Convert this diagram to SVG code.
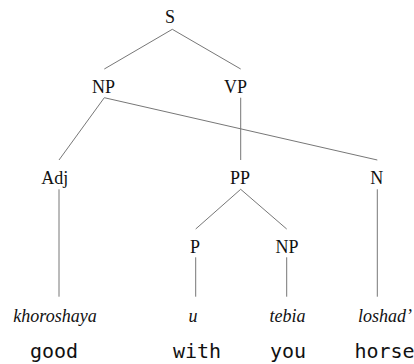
<svg xmlns="http://www.w3.org/2000/svg" width="414" height="364" viewBox="0 0 414 364">
<style>
.lbl{font-family:"Liberation Serif","Times New Roman",serif;font-size:18px;fill:#111;text-anchor:middle}
.word{font-family:"Liberation Serif","Times New Roman",serif;font-size:18px;font-style:italic;fill:#111;text-anchor:middle}
.gloss{font-family:"DejaVu Sans Mono",monospace;font-size:20px;fill:#111;text-anchor:middle}
.edge{stroke:#777;stroke-width:1;fill:none}
</style>
<rect width="414" height="364" fill="#fff"/>
<g id="connectors">
<line class="edge" x1="172.3" y1="29.3" x2="104.3" y2="69"/>
<line class="edge" x1="172.3" y1="29.3" x2="240.7" y2="69"/>
<line class="edge" x1="104.3" y1="97.7" x2="59" y2="160"/>
<line class="edge" x1="104.3" y1="97.7" x2="377.3" y2="160"/>
<line class="edge" x1="240.7" y1="97.7" x2="240.7" y2="160"/>
<line class="edge" x1="59" y1="189.3" x2="59" y2="296.7"/>
<line class="edge" x1="240.7" y1="189.3" x2="195.7" y2="229"/>
<line class="edge" x1="240.7" y1="189.3" x2="286.7" y2="229"/>
<line class="edge" x1="377.3" y1="189.3" x2="377.3" y2="296.7"/>
<line class="edge" x1="195.7" y1="257.3" x2="195.7" y2="296.7"/>
<line class="edge" x1="286.7" y1="257.3" x2="286.7" y2="296.7"/>
</g>
<g id="S"><text class="lbl" x="170" y="23.3">S</text></g>
<g id="NP1"><text class="lbl" x="103.5" y="93.3">NP</text></g>
<g id="VP"><text class="lbl" x="235.5" y="93.3">VP</text></g>
<g id="Adj"><text class="lbl" x="54.7" y="184.3">Adj</text></g>
<g id="PP"><text class="lbl" x="240" y="184.3">PP</text></g>
<g id="N"><text class="lbl" x="376.7" y="184.3">N</text></g>
<g id="P"><text class="lbl" x="195" y="252.7">P</text></g>
<g id="NP2"><text class="lbl" x="287" y="252.7">NP</text></g>
<g id="w-khoroshaya"><text class="word" x="55" y="321.5">khoroshaya</text></g>
<g id="w-u"><text class="word" x="193" y="321.5">u</text></g>
<g id="w-tebia"><text class="word" x="287.5" y="321.5">tebia</text></g>
<g id="w-loshad"><text class="word" x="385" y="321.5">loshad’</text></g>
<g id="g-good"><text class="gloss" x="54" y="358">good</text></g>
<g id="g-with"><text class="gloss" x="197" y="358">with</text></g>
<g id="g-you"><text class="gloss" x="288" y="358">you</text></g>
<g id="g-horse"><text class="gloss" x="384.5" y="358">horse</text></g>
</svg>
